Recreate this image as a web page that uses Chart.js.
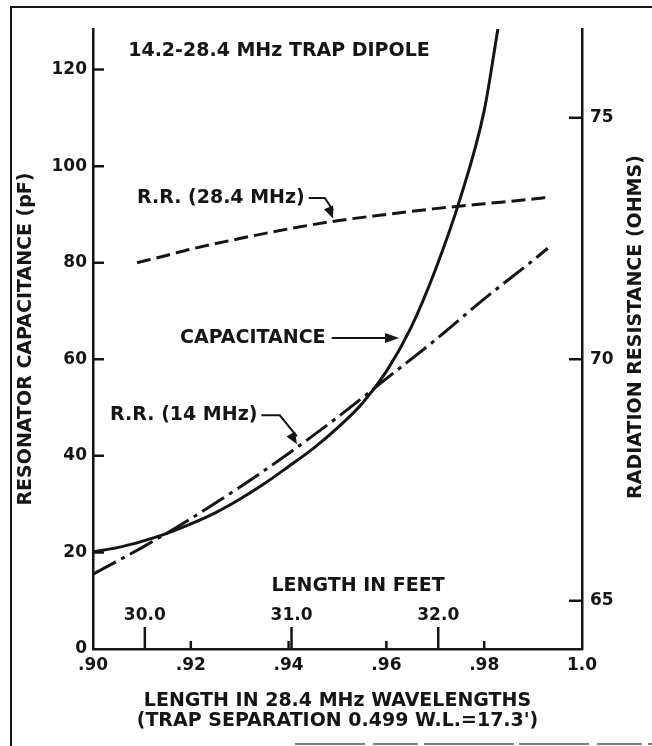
<!DOCTYPE html>
<html>
<head>
<meta charset="utf-8">
<script src="https://cdn.jsdelivr.net/npm/chart.js@4.4.1/dist/chart.umd.min.js"></script>
<style>
  html, body { margin: 0; padding: 0; background: #fff; }
  #chart { display: block; }
</style>
</head>
<body>
<canvas id="chart" width="652" height="746"></canvas>
<script>
// resonator capacitance (pF) against length in 28.4 MHz wavelengths
const capLen = [0.900, 0.905, 0.910, 0.915, 0.920, 0.925, 0.930, 0.935, 0.940, 0.945,
                0.950, 0.955, 0.960, 0.965, 0.970, 0.975, 0.980, 0.9828];
const capPf  = [20.1, 21.0, 22.3, 23.9, 25.9, 28.2, 31.0, 34.2, 37.8, 41.5,
                45.8, 50.8, 57.5, 66.5, 78.5, 93.0, 111.5, 128.4];

// radiation resistance at 28.4 MHz (ohms)
const rr28Len = [0.909, 0.915, 0.920, 0.930, 0.940, 0.950, 0.960, 0.970, 0.980, 0.990, 0.9933];
const rr28Ohm = [72.0, 72.15, 72.28, 72.5, 72.7, 72.87, 73.0, 73.12, 73.22, 73.32, 73.36];

// radiation resistance at 14 MHz (ohms)
const rr14Len = [0.900, 0.910, 0.920, 0.930, 0.940, 0.950, 0.960, 0.970, 0.980, 0.990, 0.993];
const rr14Ohm = [65.55, 66.1, 66.7, 67.35, 68.05, 68.8, 69.6, 70.4, 71.25, 72.05, 72.3];

// axis ticks
const lenTicks  = [0.90, 0.92, 0.94, 0.96, 0.98, 1.0];
const lenLabels = ['.90', '.92', '.94', '.96', '.98', '1.0'];
const capTicks  = [0, 20, 40, 60, 80, 100, 120];
const ohmTicks  = [65, 70, 75];

// second length scale in feet, with where each foot mark falls in wavelengths
const feetLabels = ['30.0', '31.0', '32.0'];
const feetAtLen  = [0.9106, 0.9406, 0.9706];

const ink = '#151515';
const face = '"DejaVu Sans", "Liberation Sans", sans-serif';
const tickFont = { family: face, size: 17, weight: 'bold' };
const textFont = { family: face, size: 19, weight: 'bold' };

function pts(xs, ys) {
  return xs.map(function (x, i) { return { x: x, y: ys[i] }; });
}

// linear lookup on a curve, used to put arrow tips onto the lines
function valueAt(xs, ys, x) {
  for (var i = 1; i < xs.length; i++) {
    if (x <= xs[i]) {
      var t = (x - xs[i - 1]) / (xs[i] - xs[i - 1]);
      return ys[i - 1] + t * (ys[i] - ys[i - 1]);
    }
  }
  return ys[ys.length - 1];
}

function arrowHead(ctx, x0, y0, x1, y1, len, half) {
  var a = Math.atan2(y1 - y0, x1 - x0);
  ctx.beginPath();
  ctx.moveTo(x1, y1);
  ctx.lineTo(x1 - len * Math.cos(a) + half * Math.sin(a), y1 - len * Math.sin(a) - half * Math.cos(a));
  ctx.lineTo(x1 - len * Math.cos(a) - half * Math.sin(a), y1 - len * Math.sin(a) + half * Math.cos(a));
  ctx.closePath();
  ctx.fill();
}

// inward ticks, the feet scale, the labels with their arrows and the frame
const overlay = {
  id: 'overlay',
  afterDraw: function (c) {
    var ctx = c.ctx;
    var sx = c.scales.x, sl = c.scales.y, sr = c.scales.y1;
    var area = c.chartArea;
    var fnt = 'bold 19px ' + face;
    ctx.save();
    ctx.strokeStyle = ink;
    ctx.fillStyle = ink;
    ctx.lineCap = 'butt';

    // tick marks pointing into the plot
    ctx.lineWidth = 2.5;
    ctx.beginPath();
    capTicks.forEach(function (v) {
      if (v === 0) return;
      var y = sl.getPixelForValue(v);
      ctx.moveTo(area.left, y); ctx.lineTo(area.left + 11, y);
    });
    ohmTicks.forEach(function (v) {
      var y = sr.getPixelForValue(v);
      ctx.moveTo(area.right, y); ctx.lineTo(area.right - 13, y);
    });
    lenTicks.forEach(function (v, i) {
      if (i === 0 || i === lenTicks.length - 1) return;
      var x = sx.getPixelForValue(v);
      ctx.moveTo(x, area.bottom); ctx.lineTo(x, area.bottom - 8);
    });
    feetAtLen.forEach(function (v) {
      var x = sx.getPixelForValue(v);
      ctx.moveTo(x, area.bottom); ctx.lineTo(x, area.bottom - 22);
    });
    ctx.stroke();

    ctx.textBaseline = 'middle';
    ctx.textAlign = 'center';
    ctx.font = 'bold 17px ' + face;
    feetAtLen.forEach(function (v, i) {
      ctx.fillText(feetLabels[i], sx.getPixelForValue(v), area.bottom - 33);
    });
    ctx.font = fnt;
    ctx.fillText('LENGTH IN FEET', sx.getPixelForValue(0.9542), area.bottom - 63);

    ctx.textAlign = 'left';
    ctx.fillText('14.2-28.4 MHz TRAP DIPOLE', sx.getPixelForValue(0.9072), sl.getPixelForValue(123.8));

    ctx.lineWidth = 2;
    // R.R. (28.4 MHz) label with bent leader
    var lx = sx.getPixelForValue(0.9090), ly = sl.getPixelForValue(93.4);
    ctx.fillText('R.R. (28.4 MHz)', lx, ly);
    var end = lx + ctx.measureText('R.R. (28.4 MHz)').width + 4;
    var bx = sx.getPixelForValue(0.9474);
    var tx = sx.getPixelForValue(0.9491), ty = sr.getPixelForValue(valueAt(rr28Len, rr28Ohm, 0.9491)) - 3;
    ctx.beginPath();
    ctx.moveTo(end, ly); ctx.lineTo(bx, ly); ctx.lineTo(tx, ty - 8);
    ctx.stroke();
    arrowHead(ctx, bx, ly, tx, ty, 12, 5);

    // CAPACITANCE label with straight arrow
    var cx = sx.getPixelForValue(0.9178), cy = sl.getPixelForValue(64.4);
    ctx.fillText('CAPACITANCE', cx, cy);
    var cend = cx + ctx.measureText('CAPACITANCE').width + 6;
    var ctip = sx.getPixelForValue(0.9632) - 3;
    ctx.beginPath();
    ctx.moveTo(cend, cy); ctx.lineTo(ctip - 10, cy);
    ctx.stroke();
    arrowHead(ctx, cend, cy, ctip, cy, 14, 5);

    // R.R. (14 MHz) label with bent leader
    var rx = sx.getPixelForValue(0.9035), ry = sl.getPixelForValue(48.4);
    ctx.fillText('R.R. (14 MHz)', rx, ry);
    var rend = rx + ctx.measureText('R.R. (14 MHz)').width + 4;
    var rb = sx.getPixelForValue(0.9382);
    var rtx = sx.getPixelForValue(0.9417), rty = sr.getPixelForValue(valueAt(rr14Len, rr14Ohm, 0.9417)) - 3;
    ctx.beginPath();
    ctx.moveTo(rend, ry); ctx.lineTo(rb, ry); ctx.lineTo(rtx, rty - 8);
    ctx.stroke();
    arrowHead(ctx, rb, ry, rtx, rty, 12, 5);

    // right axis title, reading upward like the left one
    ctx.save();
    ctx.translate(636, (area.top + area.bottom) / 2 - 12);
    ctx.rotate(-Math.PI / 2);
    ctx.textAlign = 'center';
    ctx.fillText('RADIATION RESISTANCE (OHMS)', 0, 0);
    ctx.restore();

    // frame round the figure
    ctx.lineWidth = 2;
    ctx.beginPath();
    ctx.moveTo(11, c.height); ctx.lineTo(11, 7); ctx.lineTo(c.width, 7);
    ctx.stroke();
    ctx.strokeStyle = '#555';
    ctx.lineWidth = 1.5;
    ctx.setLineDash([70, 8, 45, 6, 90, 5]);
    ctx.beginPath();
    ctx.moveTo(295, 744); ctx.lineTo(c.width, 744);
    ctx.stroke();
    ctx.restore();
  }
};

new Chart(document.getElementById('chart'), {
  type: 'line',
  data: {
    datasets: [
      {
        label: 'CAPACITANCE',
        data: pts(capLen, capPf),
        yAxisID: 'y',
        borderColor: ink,
        borderWidth: 3,
        pointRadius: 0,
        cubicInterpolationMode: 'monotone'
      },
      {
        label: 'R.R. (28.4 MHz)',
        data: pts(rr28Len, rr28Ohm),
        yAxisID: 'y1',
        borderColor: ink,
        borderWidth: 3,
        borderDash: [14, 6],
        pointRadius: 0,
        cubicInterpolationMode: 'monotone'
      },
      {
        label: 'R.R. (14 MHz)',
        data: pts(rr14Len, rr14Ohm),
        yAxisID: 'y1',
        borderColor: ink,
        borderWidth: 3,
        borderDash: [26, 6, 4, 6],
        pointRadius: 0,
        cubicInterpolationMode: 'monotone'
      }
    ]
  },
  options: {
    responsive: false,
    animation: false,
    devicePixelRatio: 1,
    layout: { padding: { top: 29, left: 0, right: 0, bottom: 0 } },
    plugins: { legend: { display: false }, tooltip: { enabled: false } },
    scales: {
      x: {
        type: 'linear',
        min: 0.90,
        max: 1.0,
        afterBuildTicks: function (s) { s.ticks = lenTicks.map(function (v) { return { value: v }; }); },
        afterFit: function (s) { s.height = 97; },
        grid: { display: false, drawTicks: false },
        border: { color: ink, width: 2.5 },
        ticks: {
          padding: 6,
          color: ink,
          font: tickFont,
          maxRotation: 0,
          callback: function (v, i) { return lenLabels[i]; }
        },
        title: {
          display: true,
          text: ['LENGTH IN 28.4 MHz WAVELENGTHS', "(TRAP SEPARATION 0.499 W.L.=17.3')"],
          color: ink,
          font: { family: face, size: 19, weight: 'bold', lineHeight: 1.1 },
          padding: { top: 0, bottom: 14 }
        }
      },
      y: {
        position: 'left',
        min: 0,
        max: 128.4,
        afterBuildTicks: function (s) { s.ticks = capTicks.map(function (v) { return { value: v }; }); },
        afterFit: function (s) { s.width = 93; },
        grid: { display: false, drawTicks: false },
        border: { color: ink, width: 2.5 },
        ticks: { padding: 6, color: ink, font: tickFont },
        title: {
          display: true,
          text: 'RESONATOR CAPACITANCE (pF)',
          color: ink,
          font: textFont,
          padding: { top: 15, bottom: 0 }
        }
      },
      y1: {
        position: 'right',
        min: 64,
        max: 76.84,
        afterBuildTicks: function (s) { s.ticks = ohmTicks.map(function (v) { return { value: v }; }); },
        afterFit: function (s) { s.width = 70; },
        grid: { display: false, drawTicks: false },
        border: { color: ink, width: 2.5 },
        ticks: { padding: 8, color: ink, font: tickFont }
      }
    }
  },
  plugins: [overlay]
});
</script>
</body>
</html>
